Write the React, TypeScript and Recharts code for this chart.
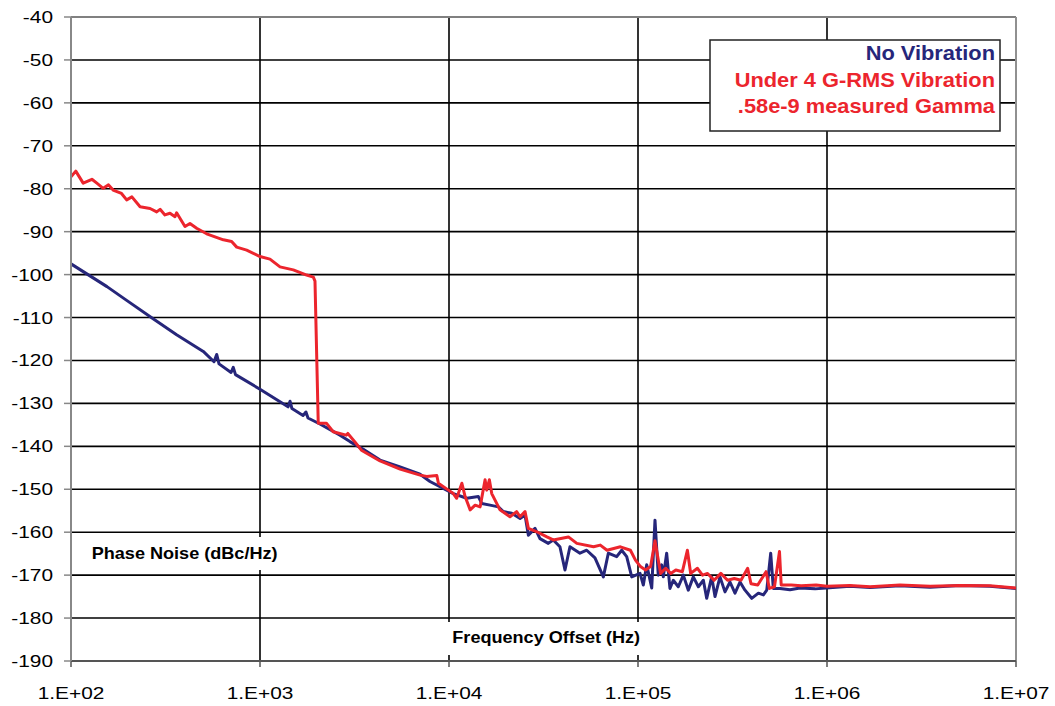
import React from "react";
import { LineChart, Line, XAxis, YAxis, CartesianGrid, ReferenceLine } from "recharts";

// Frequency offset (Hz) and phase noise (dBc/Hz)
const noVibFreq = [
  100, 126, 155, 197, 272, 362, 501, 571, 590, 607, 703, 722, 742, 1000, 1407, 1442, 1476, 1689, 1750, 1795,
  2075, 2649, 2992, 3520, 4317, 5510, 7030, 7930, 10120, 10540, 12410, 14300, 14900, 16490, 18250, 19380,
  21470, 23770, 25250, 26300, 28520, 30290, 33520, 35620, 38630, 41080, 43650, 49320, 53520, 59190, 65560,
  69660, 77130, 82000, 87140, 92630, 102500, 106700, 111200, 118200, 123000, 128000, 133400, 136100, 141800,
  147600, 153700, 163400, 173700, 184600, 196200, 208600, 221700, 230900, 245400, 255500, 271500, 288600,
  306700, 326000, 346500, 368300, 399700, 433400, 460700, 480000, 503700, 520000, 564000, 637000, 720000,
  865000, 989000, 1320000, 1690000, 2430000, 3510000, 5060000, 7280000, 10000000,
];
const noVibDb = [
  -97.5, -100.3, -102.8, -106.0, -110.3, -114.0, -117.9, -120.3, -118.6, -120.8, -122.8, -121.6, -123.3, -126.7,
  -130.8, -129.5, -131.2, -132.8, -132.0, -133.4, -134.8, -137.4, -138.9, -140.7, -143.2, -144.8, -146.5,
  -148.2, -150.6, -151.0, -152.1, -151.7, -153.3, -153.7, -154.1, -155.2, -155.6, -156.8, -156.0, -160.7,
  -159.1, -161.5, -162.6, -161.8, -163.4, -168.8, -163.4, -164.9, -164.2, -166.0, -170.4, -164.9, -165.7,
  -164.2, -165.7, -170.4, -169.6, -172.3, -167.6, -173.0, -157.2, -170.0, -167.6, -170.4, -164.9, -173.1,
  -171.2, -172.7, -170.0, -173.5, -170.4, -172.7, -171.2, -175.4, -170.4, -175.0, -170.4, -173.9, -171.6,
  -174.2, -171.6, -173.5, -175.4, -174.2, -174.6, -173.5, -164.9, -173.1, -173.1, -173.4, -173.0, -173.2,
  -173.0, -172.6, -172.9, -172.5, -172.8, -172.4, -172.6, -173.1,
];

const vibFreq = [
  100, 106, 116, 129, 137, 148, 158, 167, 185, 197, 210, 232, 262, 284, 296, 314, 334, 355, 362, 401, 426, 462,
  522, 640, 708, 753, 850, 1000, 1129, 1276, 1500, 1766, 1915, 1954, 2033, 2245, 2439, 2858, 2915, 3170, 3440,
  4317, 5510, 7030, 7620, 8620, 8790, 9930, 10540, 10980, 11700, 12170, 12940, 13750, 14610, 15520, 15840,
  16350, 16830, 18620, 19780, 21020, 22790, 23770, 25250, 26300, 29140, 32960, 35620, 42830, 47460, 58180,
  63170, 68570, 80690, 91170, 96950, 103000, 109600, 116600, 123000, 131700, 140100, 149000, 158500, 171700,
  182500, 190000, 206300, 219400, 233300, 252700, 274400, 297700, 323100, 350600, 380400, 396200, 430100,
  476000, 495500, 527300, 560500, 572400, 646500, 730200, 876000, 1000000, 1320000, 1690000, 2430000, 3510000,
  5060000, 7280000, 10000000,
];
const vibDb = [
  -77.2, -75.9, -78.7, -77.8, -78.7, -79.9, -79.1, -80.3, -81.1, -82.6, -81.9, -84.2, -84.6, -85.4, -84.8,
  -86.1, -85.7, -86.5, -85.6, -88.8, -88.1, -89.2, -90.5, -91.9, -92.3, -93.6, -94.3, -95.8, -96.4, -98.2,
  -98.9, -100.1, -100.6, -101.5, -134.6, -134.6, -136.6, -137.4, -137.0, -138.9, -140.9, -143.4, -145.3,
  -146.7, -147.0, -146.8, -148.6, -150.2, -151.0, -152.1, -148.6, -151.7, -154.8, -153.7, -154.1, -147.8,
  -150.2, -147.8, -151.0, -154.8, -155.6, -156.4, -155.2, -156.4, -155.2, -159.1, -159.9, -161.1, -161.8,
  -161.1, -162.6, -163.4, -163.0, -164.2, -163.4, -164.2, -166.5, -168.0, -168.8, -168.0, -162.0, -169.6,
  -168.4, -169.6, -168.8, -169.2, -164.2, -169.6, -168.4, -170.0, -169.6, -171.2, -169.6, -171.2, -170.8,
  -171.2, -168.4, -172.0, -172.3, -169.2, -173.1, -172.7, -164.5, -172.3, -172.3, -172.5, -172.3, -172.6,
  -172.4, -172.7, -172.3, -172.6, -172.4, -172.5, -173.0,
];

const xTicks = [100, 1000, 10000, 100000, 1000000, 10000000];
const xTickLabels = ["1.E+02", "1.E+03", "1.E+04", "1.E+05", "1.E+06", "1.E+07"];
const yTicks = [-190, -180, -170, -160, -150, -140, -130, -120, -110, -100, -90, -80, -70, -60, -50, -40];

const seriesNames = ["No Vibration", "Under 4 G-RMS Vibration", ".58e-9 measured Gamma"];
const yAxisTitle = "Phase Noise (dBc/Hz)";
const xAxisTitle = "Frequency Offset (Hz)";

const noVibData = noVibFreq.map((f, i) => ({ f, db: noVibDb[i] }));
const vibData = vibFreq.map((f, i) => ({ f, db: vibDb[i] }));

const BLUE = "#26267a";
const RED = "#ec252d";
const FONT = "'Liberation Sans', Arial, Helvetica, sans-serif";

const YTick = (props: any) => {
  const { x, y, payload } = props;
  return (
    <text
      transform={`translate(${x},${y + 6}) scale(1.28,1)`}
      textAnchor="end"
      fontSize={16.3}
      fontFamily={FONT}
      fill="#000"
    >
      {String(payload.value)}
    </text>
  );
};

const XTick = (props: any) => {
  const { x, payload } = props;
  const idx = xTicks.indexOf(payload.value);
  return (
    <text
      transform={`translate(${x},699) scale(1.28,1)`}
      textAnchor="middle"
      fontSize={16.3}
      fontFamily={FONT}
      fill="#000"
    >
      {idx >= 0 ? xTickLabels[idx] : ""}
    </text>
  );
};

export default function App() {
  return (
    <div style={{ position: "absolute", left: 0, top: 0, width: 1055, height: 706, background: "#fff" }}>
      <LineChart
        width={1055}
        height={706}
        margin={{ top: 17, right: 39, left: 0, bottom: 0 }}
      >
        <CartesianGrid stroke="#000" strokeWidth={1.6} />
        <XAxis
          type="number"
          dataKey="f"
          scale="log"
          domain={[100, 10000000]}
          ticks={xTicks}
          allowDataOverflow
          height={45}
          tickSize={6}
          tick={<XTick />}
          axisLine={{ stroke: "#555", strokeWidth: 2 }}
          tickLine={{ stroke: "#555", strokeWidth: 1.5 }}
        />
        <YAxis
          type="number"
          dataKey="db"
          domain={[-190, -40]}
          ticks={yTicks}
          interval={0}
          width={71}
          tickSize={7}
          tickMargin={11}
          tick={<YTick />}
          axisLine={{ stroke: "#888", strokeWidth: 2 }}
          tickLine={{ stroke: "#888", strokeWidth: 1.5 }}
        />
        <ReferenceLine y={-40} stroke="#808080" strokeWidth={2} />
        <ReferenceLine x={10000000} stroke="#909090" strokeWidth={2} />
        <Line
          data={noVibData}
          dataKey="db"
          name={seriesNames[0]}
          stroke={BLUE}
          strokeWidth={3}
          dot={false}
          strokeLinejoin="round"
          isAnimationActive={false}
        />
        <Line
          data={vibData}
          dataKey="db"
          name={seriesNames[1]}
          stroke={RED}
          strokeWidth={3}
          dot={false}
          strokeLinejoin="round"
          isAnimationActive={false}
        />
      </LineChart>
      <svg
        width={1055}
        height={706}
        style={{ position: "absolute", left: 0, top: 0, pointerEvents: "none" }}
      >
        <rect x={710} y={40} width={290} height={91} fill="#fff" stroke="#222" strokeWidth={1.5} />
        <text transform="translate(995,60) scale(1.12,1)" textAnchor="end" fontSize={19.5} fontWeight="bold" fontFamily={FONT} fill={BLUE}>
          {seriesNames[0]}
        </text>
        <text transform="translate(995,86.7) scale(1.12,1)" textAnchor="end" fontSize={19.5} fontWeight="bold" fontFamily={FONT} fill={RED}>
          {seriesNames[1]}
        </text>
        <text transform="translate(995,113.3) scale(1.12,1)" textAnchor="end" fontSize={19.5} fontWeight="bold" fontFamily={FONT} fill={RED}>
          {seriesNames[2]}
        </text>

        <rect x={86} y={537} width={198} height={33} fill="#fff" />
        <text transform="translate(91.7,559.3) scale(1.11,1)" fontSize={16.3} fontWeight="bold" fontFamily={FONT} fill="#000">
          {yAxisTitle}
        </text>
        <rect x={446} y={622} width={200} height={33} fill="#fff" />
        <text transform="translate(452.3,643.4) scale(1.11,1)" fontSize={16.3} fontWeight="bold" fontFamily={FONT} fill="#000">
          {xAxisTitle}
        </text>
      </svg>
    </div>
  );
}
